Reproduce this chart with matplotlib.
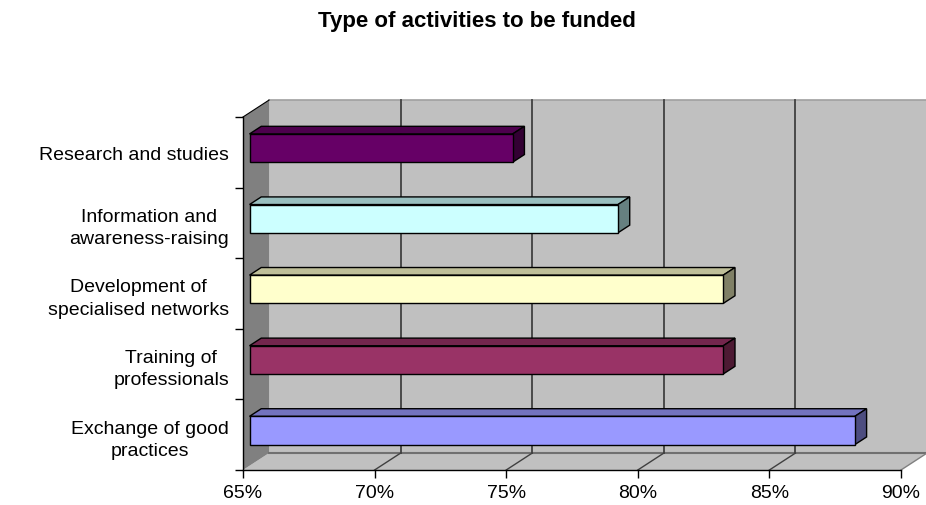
import matplotlib.pyplot as plt
from matplotlib.patches import Polygon
import matplotlib.colors as mcolors

plt.rcParams['font.family'] = ['Liberation Sans', 'DejaVu Sans']

# Datos (de abajo hacia arriba)
categorias = ["Exchange of good\npractices", "Training of\nprofessionals",
              "Development of\nspecialised networks", "Information and\nawareness-raising",
              "Research and studies"]
valores = [88, 83, 83, 79, 75]
colores = ["#9999FF", "#993366", "#FFFFCC", "#CCFFFF", "#660066"]
ticks_x = [65, 70, 75, 80, 85, 90]

xmin, xmax = 65, 90
n = len(categorias)

# Profundidad del efecto 3D (en unidades de datos)
DX, DY = 0.99, 0.24
z0, z1 = 0.25, 0.70
ancho = 0.40

fig = plt.figure(figsize=(9.26, 5.06), dpi=100)
ax = fig.add_axes([243 / 926, 35 / 506, 658 / 926, 353 / 506])
ax.set_xlim(xmin, xmax)
ax.set_ylim(0, n)
ax.patch.set_visible(False)


def poly(pts, color, z, ec='none', lw=0):
    ax.add_patch(Polygon(pts, closed=True, facecolor=color, edgecolor=ec,
                         linewidth=lw, zorder=z, clip_on=False))


# Paredes y suelo
poly([(xmin + DX, DY), (xmax + DX, DY), (xmax + DX, n + DY), (xmin + DX, n + DY)], "#C0C0C0", 0.2)
poly([(xmin, 0), (xmax, 0), (xmax + DX, DY), (xmin + DX, DY)], "#C0C0C0", 0.3)
poly([(xmin, 0), (xmin + DX, DY), (xmin + DX, n + DY), (xmin, n)], "#808080", 0.3)
ax.plot([xmin + DX, xmax + DX], [n + DY, n + DY], color="#A0A0A0", lw=1.2, zorder=0.4, clip_on=False)
ax.plot([xmin, xmin + DX], [n, n + DY], color="black", lw=0.8, zorder=0.4, clip_on=False)
ax.plot([xmin + DX, xmax + DX], [DY, DY], color="#707070", lw=1.5, zorder=0.4, clip_on=False)
ax.plot([xmax, xmax + DX], [0, DY], color="#808080", lw=1.0, zorder=0.4, clip_on=False)

# Lineas de cuadricula
for v in ticks_x[1:-1]:
    ax.plot([v + DX, v + DX], [DY, n + DY], color="#404040", lw=1.3, zorder=0.5, clip_on=False)
    ax.plot([v, v + DX], [0, DY], color="#404040", lw=1.0, zorder=0.5, clip_on=False)

# Barras 3D
for i, (val, col) in enumerate(zip(valores, colores)):
    c = i + 0.5
    y0, y1 = c - ancho / 2, c + ancho / 2
    fx, fy = z0 * DX, z0 * DY
    bx, by = z1 * DX, z1 * DY
    rgb = mcolors.to_rgb(col)
    arriba = tuple(0.75 * k for k in rgb)
    lado = tuple(0.5 * k for k in rgb)
    poly([(xmin + fx, y1 + fy), (val + fx, y1 + fy), (val + bx, y1 + by), (xmin + bx, y1 + by)],
         arriba, 3, 'black', 1.0)
    poly([(val + fx, y0 + fy), (val + bx, y0 + by), (val + bx, y1 + by), (val + fx, y1 + fy)],
         lado, 3, 'black', 1.0)
    poly([(xmin + fx, y0 + fy), (val + fx, y0 + fy), (val + fx, y1 + fy), (xmin + fx, y1 + fy)],
         col, 3.1, 'black', 1.0)

# Ejes
for s in ['top', 'right']:
    ax.spines[s].set_visible(False)
ax.spines['left'].set_linewidth(1.0)
ax.spines['bottom'].set_linewidth(1.0)

ax.set_xticks(ticks_x)
ax.set_xticklabels([f"{t}%" for t in ticks_x], fontsize=14)
ax.tick_params(axis='x', length=6, width=1, pad=4)

ax.set_yticks(range(n + 1))
ax.set_yticklabels([])
ax.tick_params(axis='y', which='major', length=6, width=1)
ax.set_yticks([i + 0.5 for i in range(n)], minor=True)
ax.set_yticklabels(categorias, minor=True, fontsize=14, multialignment='center',
                   linespacing=1.4)
ax.tick_params(axis='y', which='minor', length=0, pad=10)

fig.text(0.515, 1 - 21 / 506, "Type of activities to be funded", ha='center', va='center',
         fontsize=16, fontweight='bold')

fig.savefig("out.png", dpi=100)
